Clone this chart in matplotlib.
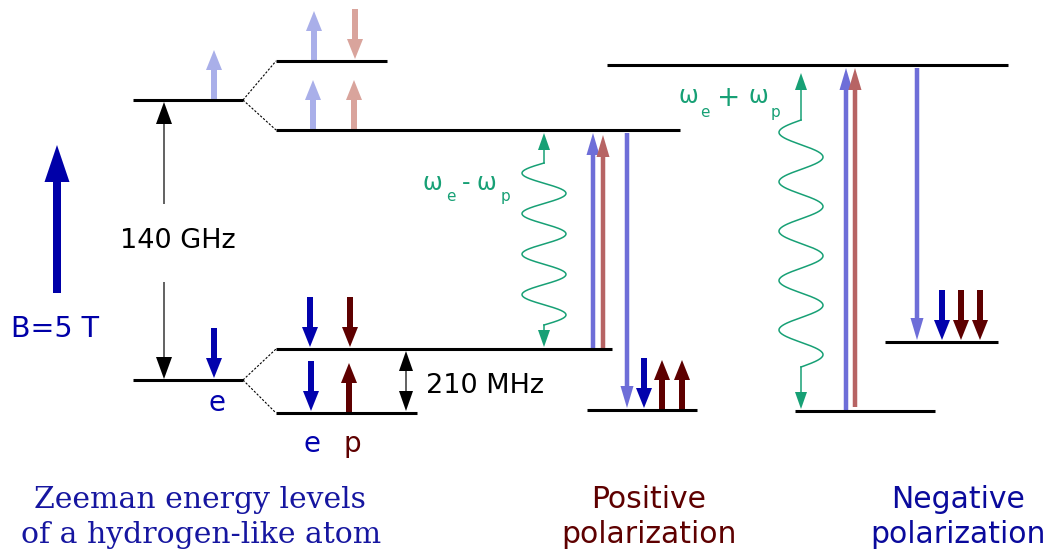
import numpy as np
import matplotlib.pyplot as plt

# --- sketch frame is in pixels, y grows downwards ---
# energy levels
level_x0 = [133, 133, 276, 276, 276, 276, 587, 607, 795, 885]
level_x1 = [243, 243, 387, 680, 612, 417, 697, 1008, 935, 998]
level_y = [100, 380, 61, 130, 349, 413, 410, 65, 411, 342]

# hyperfine splitting guides (from unsplit level to split levels)
split_from = [(243, 100), (243, 100), (243, 380), (243, 380)]
split_to = [(276, 61), (276, 130), (276, 349), (276, 413)]

# spin arrows sitting on the levels: x, level y, direction (+1 up, -1 down), colour key
spin_x = [214, 214, 314, 355, 313, 354, 310, 350, 311, 349, 644, 662, 682, 942, 961, 980]
spin_base = [100, 380, 61, 61, 130, 130, 349, 349, 413, 413, 410, 410, 410, 342, 342, 342]
spin_dir = [1, -1, 1, -1, 1, 1, -1, -1, -1, 1, -1, 1, 1, -1, -1, -1]
spin_kind = ['fb', 'e', 'fb', 'fr', 'fb', 'fr', 'e', 'p', 'e', 'p', 'e', 'p', 'p', 'e', 'p', 'p']

# transitions: x, start y, end y, colour key
trans_x = [593, 603, 627, 846, 855, 917]
trans_y0 = [349, 349, 133, 411, 407, 68]
trans_y1 = [133, 135, 408, 68, 68, 340]
trans_kind = ['tb', 'tr', 'tb', 'tb', 'tr', 'tb']

# microwave (wavy) transitions: x, low level, high level, wave span, periods
mw_x = [544, 801]
mw_low = [347, 409]
mw_high = [133, 73]
mw_wave_top = [163, 120]
mw_wave_bot = [325, 367]
mw_periods = [4, 5]

colors = {'fb': '#a9afe9', 'fr': '#d9a49c', 'e': '#0202ad', 'p': '#5e0000',
          'tb': '#6e6ed8', 'tr': '#b76464'}
green = '#17a075'

fig = plt.figure(figsize=(10.51, 5.5), dpi=100)
ax = fig.add_axes([0, 0, 1, 1])
ax.set_xlim(0, 1051)
ax.set_ylim(550, 0)
ax.axis('off')

for x0, x1, y in zip(level_x0, level_x1, level_y):
    ax.plot([x0, x1], [y, y], color='black', lw=2.2, solid_capstyle='butt')

for (xa, ya), (xb, yb) in zip(split_from, split_to):
    ax.plot([xa, xb], [ya, yb], color='black', lw=0.8, ls=(0, (2, 1.5)))


def arrow(x, y0, y1, c, w, hw, hl):
    ax.arrow(x, y0, 0, y1 - y0, width=w, head_width=hw, head_length=hl,
             length_includes_head=True, color=c, lw=0)


spin_len = 50
for x, b, d, k in zip(spin_x, spin_base, spin_dir, spin_kind):
    if d > 0:
        arrow(x, b, b - spin_len, colors[k], 6, 16, 20)
    else:
        arrow(x, b - spin_len - 2, b - 2, colors[k], 6, 16, 20)

for x, y0, y1, k in zip(trans_x, trans_y0, trans_y1, trans_kind):
    arrow(x, y0, y1, colors[k], 4.5, 13, 22)

# magnetic field arrow
arrow(57, 293, 145, '#0000a8', 8, 25, 37)
ax.text(11, 337, 'B=5 T', color='#0000a8', fontsize=20.5, va='baseline')

# electron Zeeman splitting (140 GHz)
arrow(164, 204, 102, 'black', 1.2, 16, 22)
arrow(164, 282, 379, 'black', 1.2, 16, 22)
ax.text(120, 248, '140 GHz', fontsize=19.5, va='baseline')

# hyperfine splitting (210 MHz)
arrow(406, 381, 351, 'black', 1.2, 14, 20)
arrow(406, 381, 411, 'black', 1.2, 14, 20)
ax.text(426, 393, '210 MHz', fontsize=19.5, va='baseline')

ax.text(217, 411, 'e', color=colors['e'], fontsize=20, ha='center', va='baseline')
ax.text(312, 452, 'e', color=colors['e'], fontsize=20, ha='center', va='baseline')
ax.text(352, 452, 'p', color=colors['p'], fontsize=20, ha='center', va='baseline')

# wavy microwave arrows
for x, lo, hi, top, bot, n in zip(mw_x, mw_low, mw_high, mw_wave_top, mw_wave_bot, mw_periods):
    per = (bot - top) / n
    yy = np.linspace(top, bot, 400)
    xx = x - 22 * np.sin(2 * np.pi * (yy - top) / per)
    ax.plot(xx, yy, color=green, lw=1.1)
    ax.plot([x, x], [hi + 15, top], color=green, lw=1.1)
    ax.plot([x, x], [bot, lo - 15], color=green, lw=1.1)
    arrow(x, hi + 17, hi, green, 1.2, 12, 17)
    arrow(x, lo - 17, lo, green, 1.2, 12, 17)

ax.text(423, 190, 'ω', color=green, fontsize=17, va='baseline')
ax.text(446, 201, 'e', color=green, fontsize=11, va='baseline')
ax.text(462, 190, '-', color=green, fontsize=17, va='baseline')
ax.text(477, 190, 'ω', color=green, fontsize=17, va='baseline')
ax.text(501, 201, 'p', color=green, fontsize=11, va='baseline')

ax.text(679, 103, 'ω', color=green, fontsize=17, va='baseline')
ax.text(700, 117, 'e', color=green, fontsize=11, va='baseline')
ax.text(717, 106, '+', color=green, fontsize=20, va='baseline')
ax.text(749, 103, 'ω', color=green, fontsize=17, va='baseline')
ax.text(771, 117, 'p', color=green, fontsize=11, va='baseline')

# captions
ax.text(200, 508, 'Zeeman energy levels', family='DejaVu Serif', color='#1616a0',
        fontsize=21.5, ha='center', va='baseline')
ax.text(201, 543, 'of a hydrogen-like atom', family='DejaVu Serif', color='#1616a0',
        fontsize=21.5, ha='center', va='baseline')
ax.text(649, 508, 'Positive', color=colors['p'], fontsize=21.5, ha='center', va='baseline')
ax.text(649, 543, 'polarization', color=colors['p'], fontsize=21.5, ha='center', va='baseline')
ax.text(958, 508, 'Negative', color='#0a0a9c', fontsize=21.5, ha='center', va='baseline')
ax.text(958, 543, 'polarization', color='#0a0a9c', fontsize=21.5, ha='center', va='baseline')

fig.savefig('out.png', dpi=100)
